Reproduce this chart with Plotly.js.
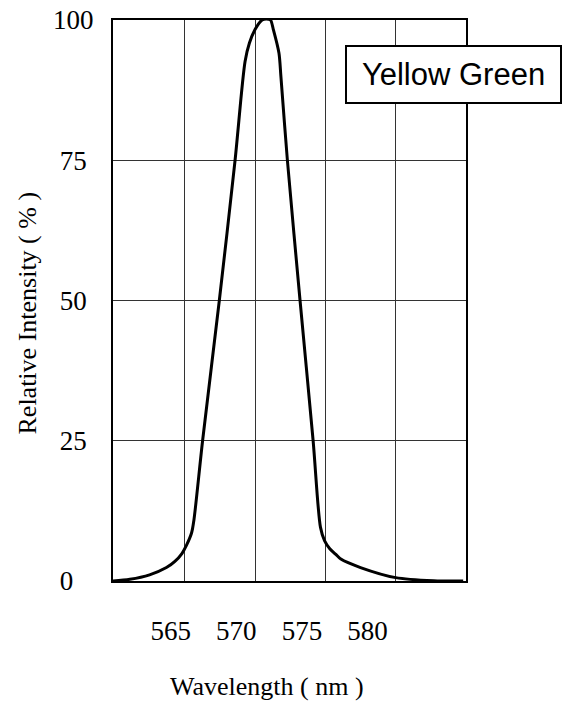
<!DOCTYPE html>
<html>
<head>
<meta charset="utf-8">
<script src="https://cdn.plot.ly/plotly-3.0.1.min.js"></script>
<style>
html,body{margin:0;padding:0;background:#fff;}
#chart{width:564px;height:705px;}
</style>
</head>
<body>
<div id="chart"></div>
<script>
// Data
const wavelength = [559.9, 561.1, 562.5, 563.7, 564.3, 564.8, 565.13, 565.49, 565.65, 566.27, 567.46, 568.58, 569.29, 569.6, 570.0, 570.5, 570.8, 571.1, 571.3, 571.7, 571.84, 572.3, 573.2, 574.13, 574.65, 574.94, 575.3, 575.72, 576.1, 577.5, 580.0, 582.7, 584.8];
const intensity = [0, 0.3, 1.1, 2.4, 3.5, 4.9, 6.4, 8.6, 10.8, 25, 50, 75, 92.6, 95.9, 98.3, 100, 100.2, 100, 98.3, 94.1, 89.9, 75, 50, 25, 9.6, 7.2, 5.8, 4.8, 3.9, 2.4, 0.6, 0.05, 0];
const xTickVals = [565, 570, 575, 580];
const xTickLabels = ['565', '570', '575', '580'];
const yTickVals = [0, 25, 50, 75, 100];
const yTickLabels = ['0', '25', '50', '75', '100'];
const seriesName = 'Yellow Green';
const xTitle = 'Wavelength ( nm )';
const yTitle = 'Relative Intensity ( % )';

const serif = 'Liberation Serif, Times New Roman, serif';
const sans = 'Liberation Sans, Arial, sans-serif';

// pad shorter y labels so they look centred like the reference
const padY = yTickLabels.map(t => t.length === 1 ? t + '\u2007\u2008' : (t.length === 2 ? t + '\u2008' : t));

const trace = {
  x: wavelength,
  y: intensity,
  type: 'scatter',
  mode: 'lines',
  name: seriesName,
  line: {color: '#000', width: 3, shape: 'spline', smoothing: 0.8},
  hoverinfo: 'x+y',
  showlegend: false
};
// invisible trace to carry the tick-label axis
const labelTrace = {
  x: xTickVals, y: xTickVals.map(() => null), xaxis: 'x2', yaxis: 'y',
  type: 'scatter', mode: 'lines', showlegend: false, hoverinfo: 'skip'
};

const layout = {
  width: 564, height: 705,
  margin: {l: 113, r: 98, t: 20, b: 124},
  paper_bgcolor: '#fff', plot_bgcolor: '#fff',
  showlegend: false,
  xaxis: {
    range: [559.9, 585],
    tickvals: xTickVals,
    showticklabels: false,
    ticks: '',
    showgrid: true, gridcolor: '#333', gridwidth: 1,
    showline: true, linecolor: '#000', linewidth: 2, mirror: true,
    zeroline: false
  },
  xaxis2: {
    overlaying: 'x', side: 'bottom',
    range: [560.6, 587.5],
    tickvals: xTickVals, ticktext: xTickLabels,
    ticks: 'outside', ticklen: 26, tickcolor: 'rgba(0,0,0,0)',
    tickfont: {family: serif, size: 27, color: '#000'},
    showgrid: false, showline: false, zeroline: false
  },
  yaxis: {
    range: [0, 100],
    tickvals: yTickVals, ticktext: padY,
    ticks: 'outside', ticklen: 12, tickcolor: 'rgba(0,0,0,0)',
    tickfont: {family: serif, size: 27, color: '#000'},
    showgrid: true, gridcolor: '#333', gridwidth: 1,
    showline: true, linecolor: '#000', linewidth: 2, mirror: true,
    zeroline: false
  },
  annotations: [
    {
      text: seriesName, xref: 'paper', yref: 'paper',
      x: (453.5 - 113) / 353, y: 1 - (74.5 - 20) / 561,
      xanchor: 'center', yanchor: 'middle', showarrow: false,
      font: {family: sans, size: 31, color: '#000'},
      bgcolor: '#fff', bordercolor: '#000', borderwidth: 2, borderpad: 1,
      width: 211, height: 53
    },
    {
      text: xTitle, xref: 'paper', yref: 'paper',
      x: (266.5 - 113) / 353, y: -(686 - 581) / 561,
      xanchor: 'center', yanchor: 'middle', showarrow: false,
      font: {family: serif, size: 26, color: '#000'}
    },
    {
      text: yTitle, xref: 'paper', yref: 'paper',
      x: (27 - 113) / 353, y: 1 - (313.5 - 20) / 561,
      xanchor: 'center', yanchor: 'middle', showarrow: false, textangle: -90,
      font: {family: serif, size: 26, color: '#000'}
    }
  ]
};

Plotly.newPlot('chart', [trace, labelTrace], layout, {displayModeBar: false, staticPlot: true});
</script>
</body>
</html>
